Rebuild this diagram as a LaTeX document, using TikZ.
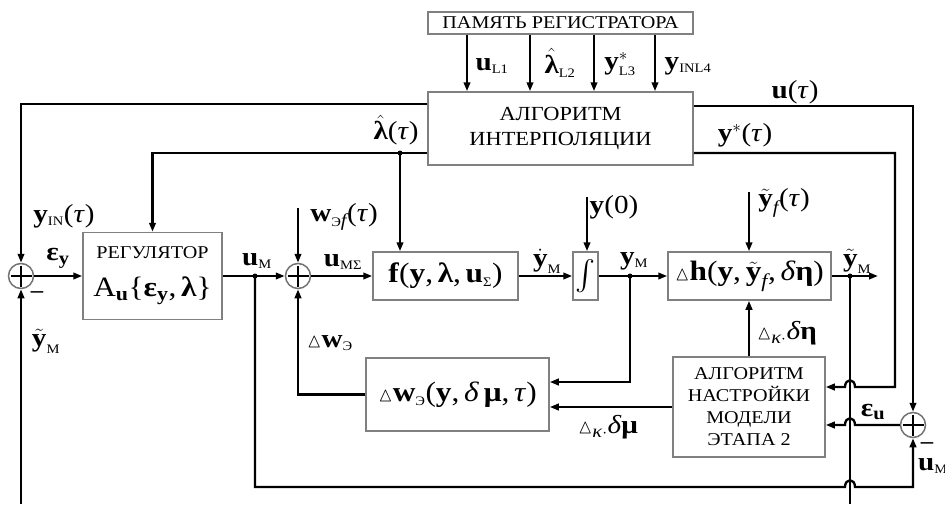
\documentclass[tikz,border=0pt]{standalone}
\usepackage{amsmath,amssymb}
\usepackage{fontspec}
\setmainfont[FakeStretch=1.12]{Liberation Serif}
\usetikzlibrary{arrows.meta}
\newcommand\sbx[1]{\text{\fontsize{13}{13}\selectfont\mdseries\upshape #1}}
\newcommand\bfl[1]{\text{\bfseries\upshape #1}}
\newcommand\itl[1]{\text{\mdseries\itshape #1}}
\newcommand\tri{{\fontsize{20}{20}\selectfont$\vartriangle$}}
\begin{document}
\begin{tikzpicture}[x=1pt,y=-1pt,
  line width=2.3pt,
  arr/.style={-{Triangle[length=9pt,width=6.5pt]}},
  blk/.style={draw=black!50, line width=1.5pt, inner sep=0pt, fill=white},
  sumc/.style={circle, draw=black!55, line width=1.5pt, minimum size=25pt, inner sep=0pt,
    path picture={\draw[black,line width=1.3pt]
      ([yshift=-2pt]path picture bounding box.north) -- ([yshift=2pt]path picture bounding box.south)
      ([xshift=2pt]path picture bounding box.west) -- ([xshift=-2pt]path picture bounding box.east);}},
  lab/.style={font=\fontsize{26}{26}\selectfont, inner sep=0pt},
  btxt/.style={align=center},
  mtxt/.style={font=\fontsize{28}{30}\selectfont},
  jdot/.style={circle, fill=black, minimum size=5pt, inner sep=0pt}
]
\useasboundingbox (0,0) rectangle (945,504);

% blocks
\node[blk, btxt, minimum width=265pt, minimum height=22pt, font=\fontsize{18}{20}\selectfont] (mem) at (560.5,23) {ПАМЯТЬ РЕГИСТРАТОРА};
\node[blk, btxt, minimum width=265pt, minimum height=73pt, font=\fontsize{20}{25}\selectfont] (alg) at (560.5,128.5) {АЛГОРИТМ\\ИНТЕРПОЛЯЦИИ};
\node[blk, btxt, minimum width=139pt, minimum height=87pt, font=\fontsize{18}{38}\selectfont] (reg) at (152.5,276)
  {РЕГУЛЯТОР\\{\fontsize{28}{38}\selectfont A$_{\bfl{u}}$\{\textbf{ε}$_{\bfl{y}}$,\,\textbf{λ}\}}};
\node[blk, mtxt, minimum width=145pt, minimum height=48pt] (fbox) at (445.5,276)
  {\textbf{f}(\textbf{y},\,\textbf{λ},\,\textbf{u}$_{\sbx{Σ}}$)};
\node[blk, minimum width=25pt, minimum height=48pt, font=\fontsize{30}{30}\selectfont] (intg) at (585.5,276) {$\int$};
\node[blk, mtxt, minimum width=163pt, minimum height=48pt] (hbox) at (749.5,276)
  {\tri\textbf{h}(\textbf{y},\,$\tilde{\bfl{y}}_{\itl{f}}$,\,\textit{δ}\textbf{η})};
\node[blk, btxt, minimum width=152pt, minimum height=100pt, font=\fontsize{18}{22}\selectfont] (alg2) at (749,407)
  {АЛГОРИТМ\\НАСТРОЙКИ\\МОДЕЛИ\\ЭТАПА 2};
\node[blk, mtxt, minimum width=183pt, minimum height=73pt] (dw) at (457.5,394.5)
  {\tri\textbf{w}$_{\sbx{Э}}$(\textbf{y},\,\textit{δ}\,\textbf{μ},\,\textit{τ})};

% summing junctions
\node[sumc] (s1) at (21,276) {};
\node[sumc] (s2) at (298,276) {};
\node[sumc] (s3) at (913,425) {};

% coordinates
\coordinate (m1) at (467,0);
\coordinate (m2) at (530,0);
\coordinate (m3) at (594,0);
\coordinate (m4) at (655,0);
\coordinate (cYin) at (21,104);
\coordinate (jLam) at (400,153);
\coordinate (cU) at (913,106);
\coordinate (cYs) at (895,153);
\coordinate (cYs2) at (895,387);
\coordinate (jUm) at (255,276);
\coordinate (jYm) at (630,276);
\coordinate (jYt) at (850,276);
\coordinate (oYt) at (878,276);
\coordinate (bL) at (21,504);
\coordinate (bR) at (850,504);
\coordinate (cYm2) at (630,382);
\coordinate (cUm1) at (255,487);
\coordinate (cUm2) at (913,487);
\coordinate (tW) at (298,208);
\coordinate (tY0) at (587,197);
\coordinate (tYf) at (749,192);

% memory -> interpolation
\foreach \m in {m1,m2,m3,m4} \draw[arr] (mem.south -| \m) -- (alg.north -| \m);

% outputs of interpolation
\draw[arr] (alg.west |- cYin) -| (s1.north);
\draw[arr] (alg.west |- jLam) -| (reg.north);
\draw[arr] (jLam) -- (fbox.north -| jLam);
\draw[arr] (alg.east |- cU) -| (s3.north);
\draw[arr] (alg.east |- cYs) -- (cYs) -- (cYs2) -- (855,387) .. controls (855,378) and (845,378) .. (845,387) -- (alg2.east |- cYs2);

% main chain
\draw[arr] (s1.east) -- (reg.west |- s1.east);
\draw[arr] (reg.east) -- (s2.west);
\draw[arr] (s2.east) -- (fbox.west);
\draw[arr] (fbox.east) -- (intg.west);
\draw[arr] (intg.east) -- (hbox.west);
\draw[arr] (hbox.east) -- (oYt);
\draw[arr] (tW) -- (s2.north);
\draw[arr] (tY0) -- (intg.north -| tY0);
\draw[arr] (tYf) -- (hbox.north -| tYf);

% feedback
\draw (jYt) -- (bR);
\draw[arr] (bL) -- (s1.south);
\draw[arr] (jYm) -- (cYm2) -- (dw.east |- cYm2);
\draw[arr] (alg2.west) -- (dw.east |- alg2.west);
\draw[arr] (dw.west) -| (s2.south);
\draw[arr] (alg2.north) -- (hbox.south -| alg2.north);
\draw[arr] (s3.west) -- (855,425) .. controls (855,416) and (845,416) .. (845,425) -- (alg2.east |- s3.west);
\draw[arr] (jUm) -- (cUm1) -- (845,487) .. controls (845,478) and (855,478) .. (855,487) -- (cUm2) -- (s3.south);

% junction dots
\foreach \j in {jLam,jUm,jYm,jYt} \node[jdot] at (\j) {};

% labels
\node[lab] (lu1) at (492,66) {\textbf{u}$_{\sbx{L1}}$};
\node[lab] (ll2) at (560,63) {$\hat{\bfl{λ}}_{\sbx{L2}}$};
\node[lab] (ly3) at (620,64) {$\bfl{y}^{*}_{\sbx{L3}}$};
\node[lab] (ly4) at (688,66) {\textbf{y}$_{\sbx{INL4}}$};
\node[lab] (lut) at (795,92) {\textbf{u}(\textit{τ})};
\node[lab] (lyst) at (745,135) {$\bfl{y}^{*}$(\textit{τ})};
\node[lab] (llt) at (396,130) {$\hat{\bfl{λ}}$(\textit{τ})};
\node[lab] (lyin) at (64,216) {\textbf{y}$_{\sbx{IN}}$(\textit{τ})};
\node[lab] (ley) at (58,258) {\textbf{ε}$_{\bfl{y}}$};
\node[lab, font=\fontsize{22}{22}\selectfont\bfseries] (lm1) at (37,295) {–};
\node[lab] (lytm) at (46,341) {$\tilde{\bfl{y}}_{\sbx{М}}$};
\node[lab] (lum) at (257,261) {\textbf{u}$_{\sbx{М}}$};
\node[lab] (lw) at (344,217) {\textbf{w}$_{\sbx{Э}\itl{f}}$(\textit{τ})};
\node[lab] (lums) at (343,262) {\textbf{u}$_{\sbx{МΣ}}$};
\node[lab] (lyd) at (547,261) {$\dot{\bfl{y}}_{\sbx{М}}$};
\node[lab] (ly0) at (614,207) {\textbf{y}(0)};
\node[lab] (lym) at (634,261) {\textbf{y}$_{\sbx{М}}$};
\node[lab] (lyf) at (784,203) {$\tilde{\bfl{y}}_{\itl{f}}$(\textit{τ})};
\node[lab] (lyt) at (857,261) {$\tilde{\bfl{y}}_{\sbx{М}}$};
\node[lab] (ldeta) at (787,333) {\tri$_{\itl{κ}\cdot}$\textit{δ}\textbf{η}};
\node[lab] (ldw) at (330,343) {\tri\textbf{w}$_{\sbx{Э}}$};
\node[lab] (ldmu) at (608,427) {\tri$_{\itl{κ}\cdot}$\textit{δ}\textbf{μ}};
\node[lab] (leu) at (873,412) {\textbf{ε}$_{\bfl{u}}$};
\node[lab, font=\fontsize{22}{22}\selectfont\bfseries] (lm3) at (927,446) {–};
\node[lab, anchor=west] (lum3) at (917,466) {\textbf{u}$_{\sbx{М}}$};
\end{tikzpicture}
\end{document}
